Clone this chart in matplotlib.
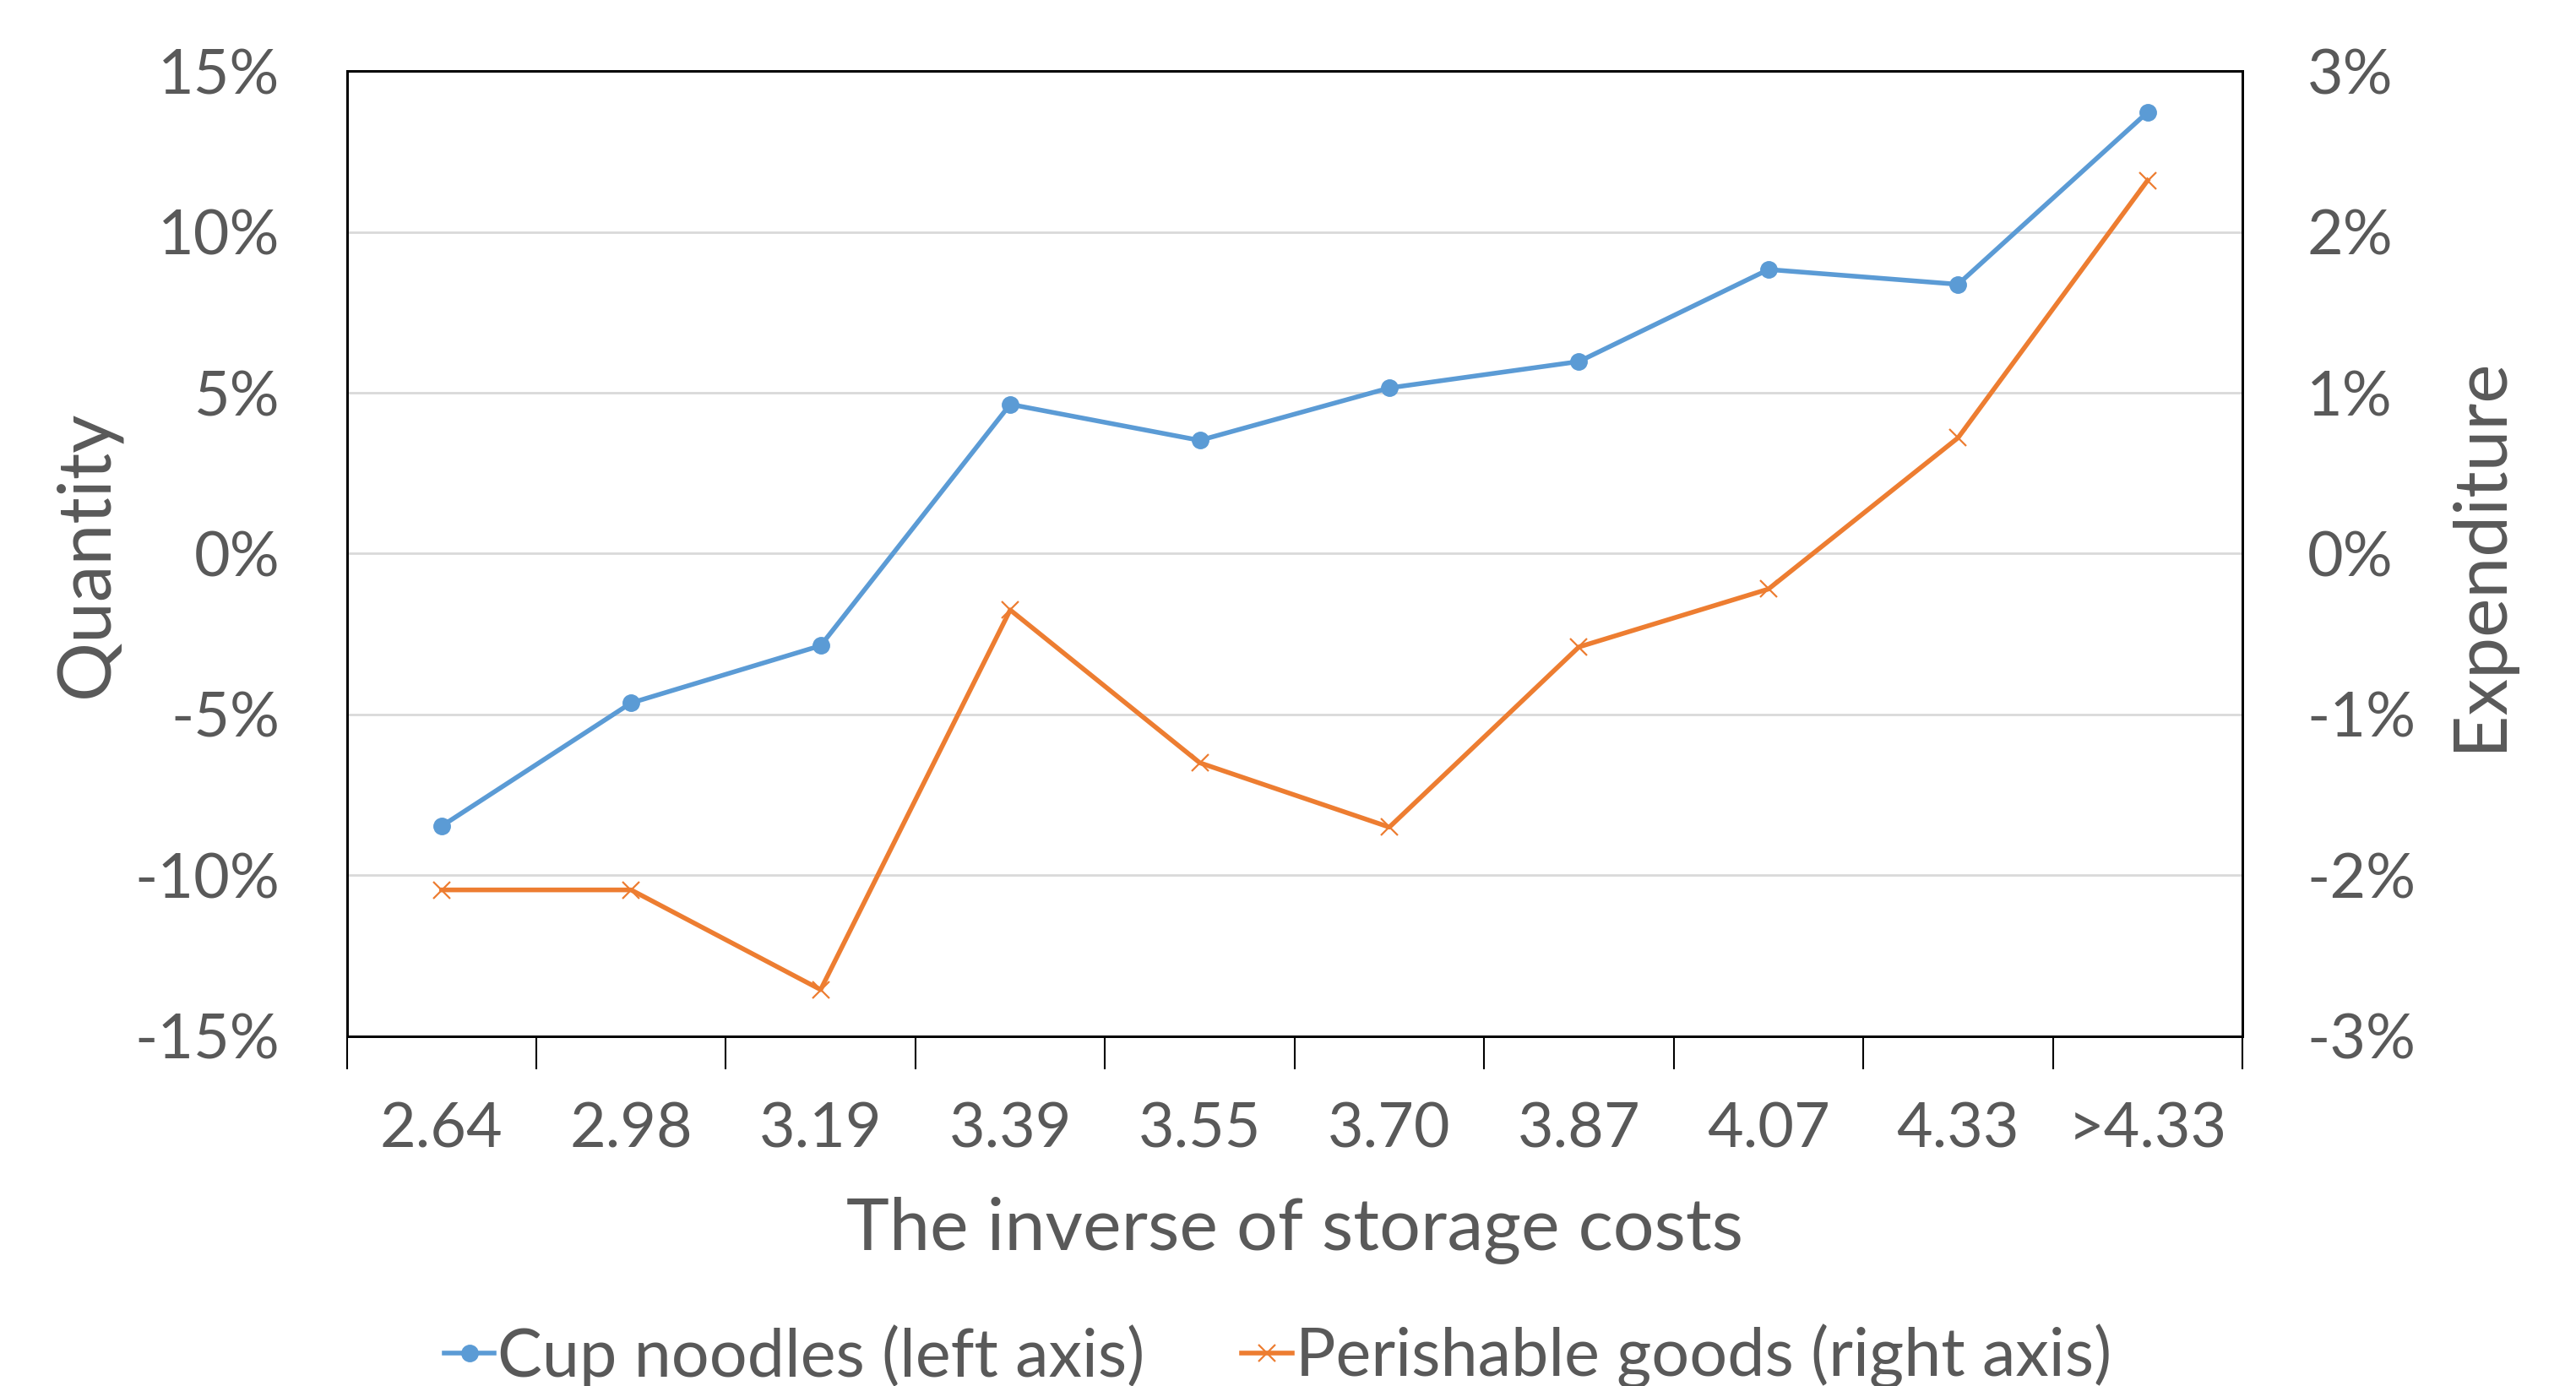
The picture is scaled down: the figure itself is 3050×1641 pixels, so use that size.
import matplotlib
matplotlib.use("Agg")
import matplotlib.pyplot as plt
from matplotlib.ticker import FuncFormatter, FixedLocator

categories = ["2.64", "2.98", "3.19", "3.39", "3.55", "3.70", "3.87", "4.07", "4.33", ">4.33"]
cup_noodles = [-8.47, -4.64, -2.86, 4.64, 3.52, 5.15, 5.97, 8.83, 8.37, 13.72]
perishable = [-2.09, -2.09, -2.71, -0.35, -1.30, -1.70, -0.58, -0.22, 0.72, 2.32]
left_ticks = [-15, -10, -5, 0, 5, 10, 15]
right_ticks = [-3, -2, -1, 0, 1, 2, 3]

BLUE = "#5B9BD5"
ORANGE = "#ED7D31"
TXT = "#595959"
GRID = "#D9D9D9"

plt.rcParams['font.family'] = ['Lato', 'DejaVu Sans']

fig = plt.figure(figsize=(30.5, 16.41), dpi=100)
ax = fig.add_axes([0.1346, 0.2523, 0.8705 - 0.1346, 0.9488 - 0.2523])
ax2 = ax.twinx()

x = list(range(len(categories)))
l1, = ax.plot(x, cup_noodles, color=BLUE, lw=4.0, marker='o', ms=14, zorder=3,
              label="Cup noodles (left axis)")
l2, = ax2.plot(x, perishable, color=ORANGE, lw=4.0, marker='x', ms=14, mew=1.6,
               label="Perishable goods (right axis)")

ax.set_xlim(-0.5, len(categories) - 0.5)
ax.set_ylim(-15, 15)
ax2.set_ylim(-3, 3)
ax.set_yticks(left_ticks)
ax2.set_yticks(right_ticks)
ax.yaxis.set_major_formatter(FuncFormatter(lambda v, p: f"{int(round(v))}%"))
ax2.yaxis.set_major_formatter(FuncFormatter(lambda v, p: f"{int(round(v))}%"))
ax.grid(axis='y', color=GRID, lw=2)
ax.set_axisbelow(True)

# category boundaries as major ticks, labels at centers as minor ticks
ax.xaxis.set_major_locator(FixedLocator([i - 0.5 for i in range(len(categories) + 1)]))
ax.xaxis.set_major_formatter(FuncFormatter(lambda v, p: ""))
ax.xaxis.set_minor_locator(FixedLocator(x))
ax.set_xticklabels(categories, minor=True)
ax.tick_params(axis='x', which='major', length=28, width=1.5, color='black', direction='out')
ax.tick_params(axis='x', which='minor', length=0, pad=56, labelsize=53, labelcolor=TXT)
ax.tick_params(axis='y', length=0, pad=57, labelsize=53, labelcolor=TXT)
ax2.tick_params(axis='y', length=0, pad=55, labelsize=53, labelcolor=TXT)

for a in (ax, ax2):
    for s in a.spines.values():
        s.set_color('black')
        s.set_linewidth(2)

ax.set_xlabel("The inverse of storage costs", fontsize=62, color=TXT, labelpad=32)
ax.set_ylabel("Quantity", fontsize=63, color=TXT, labelpad=12)
ax2.set_ylabel("Expenditure", fontsize=63, color=TXT, labelpad=26)

fig.legend(handles=[l1, l2], loc='center', bbox_to_anchor=(0.496, 0.021), ncol=2,
           frameon=False, fontsize=57, labelcolor=TXT, handlelength=0.75,
           handletextpad=0.05, columnspacing=1.45)

fig.savefig("out.png", dpi=100, facecolor='white')
